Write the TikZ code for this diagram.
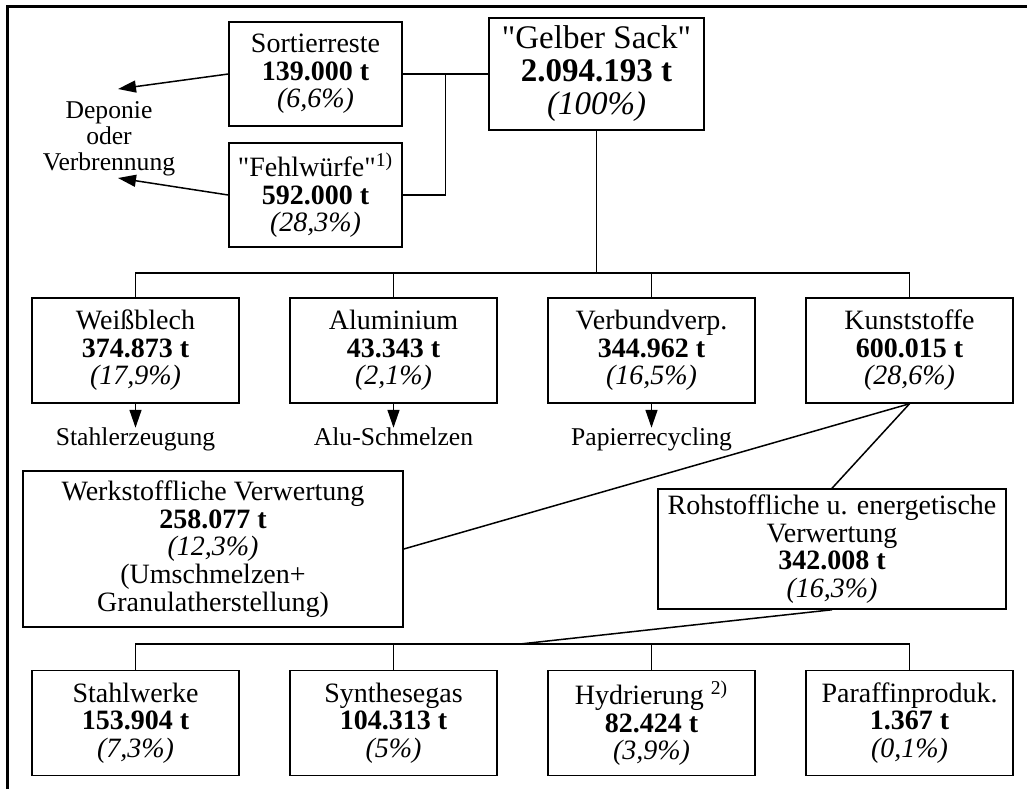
\documentclass[tikz,border=0pt]{standalone}
\usepackage{fontspec}
\setmainfont{Liberation Serif}
\usepackage{tikz}
\usetikzlibrary{calc,positioning,arrows.meta}

\begin{document}
\begin{tikzpicture}[
    x=0.5pt, y=-0.5pt,
    node distance=129pt,
    every node/.style={font=\fontsize{14}{13.8}\selectfont},
    box/.style={rectangle, draw, line width=0.75pt, align=center, minimum width=103.5pt, minimum height=52.5pt, inner sep=2pt},
    side/.style={box, minimum width=86.5pt, minimum height=52pt},
    lbl/.style={align=center, inner sep=0pt, font=\fontsize{12.8}{13}\selectfont},
    link/.style={line width=0.75pt},
    arrow/.style={->, >={Triangle[length=9pt,width=6pt]}, line width=0.75pt},
    frame/.style={line width=1.5pt},
]
\useasboundingbox (0,0) rectangle (1027,789);
\draw[frame] (7.5,789) |- (1027,6.5);

% Sammlung und Sortierung
\node[box, minimum width=107.5pt, minimum height=56pt, font=\fontsize{16.5}{16.5}\selectfont] (gelb) at (596.5,74) {\textquotedbl Gelber Sack\textquotedbl\\\textbf{2.094.193 t}\\\textit{(100\%)}};
\node[side] (sort) at (315.5,74) {Sortierreste\\\textbf{139.000 t}\\\textit{(6,6\%)}};
\node[side, node distance=60.5pt, below of=sort] (fehl) {\textquotedbl Fehlwürfe\textquotedbl\textsuperscript{1)}\\\textbf{592.000 t}\\\textit{(28,3\%)}};
\node[lbl] (dep) at (109,139) {Deponie\\oder\\Verbrennung};
\coordinate (dep1) at (118,89);
\coordinate (dep2) at (118,178);
\coordinate (jn) at ($(sort.east)!.5!(gelb.west)$);
\draw[link] (sort.east) -- (gelb.west);
\draw[link] (fehl.east) -| (jn);
\draw[arrow] (sort.west) -- (dep1);
\draw[arrow] (fehl.west) -- (dep2);

% Fraktionen
\node[box] (weiss) at (135.5,350.5) {Weißblech\\\textbf{374.873 t}\\\textit{(17,9\%)}};
\node[box, right of=weiss] (alu) {Aluminium\\\textbf{43.343 t}\\\textit{(2,1\%)}};
\node[box, right of=alu] (verb) {Verbundverp.\\\textbf{344.962 t}\\\textit{(16,5\%)}};
\node[box, right of=verb] (kunst) {Kunststoffe\\\textbf{600.015 t}\\\textit{(28,6\%)}};
\coordinate (bus1) at ($(gelb.south)+(0,142)$);
\draw[link] (gelb.south) -- (bus1);
\draw[link] (weiss.north) |- (bus1) -| (kunst.north);
\draw[link] (alu.north) -- (alu.north |- bus1);
\draw[link] (verb.north) -- (verb.north |- bus1);

\node[lbl, below=12pt of weiss] (stahlerz) {Stahlerzeugung};
\node[lbl, below=12pt of alu] (alusch) {Alu-Schmelzen};
\node[lbl, below=12pt of verb] (papier) {Papierrecycling};
\draw[arrow] (weiss.south) -- (stahlerz.north);
\draw[arrow] (alu.south) -- (alusch.north);
\draw[arrow] (verb.south) -- (papier.north);

% Kunststoffverwertung
\node[box, minimum width=190pt, minimum height=78pt] (werk) at (213,549) {Werkstoffliche Verwertung\\\textbf{258.077 t}\\\textit{(12,3\%)}\\(Umschmelzen+\\Granulatherstellung)};
\node[box, minimum width=174pt, minimum height=60pt] (roh) at (832,549) {Rohstoffliche u. energetische\\Verwertung\\\textbf{342.008 t}\\\textit{(16,3\%)}};
\draw[link] (kunst.south) -- (werk.east);
\draw[link] (kunst.south) -- (roh.north);

\node[box, node distance=186.25pt, below of=weiss] (stahl) {Stahlwerke\\\textbf{153.904 t}\\\textit{(7,3\%)}};
\node[box, right of=stahl] (synth) {Synthesegas\\\textbf{104.313 t}\\\textit{(5\%)}};
\node[box, right of=synth] (hydr) {Hydrierung \textsuperscript{2)}\\\textbf{82.424 t}\\\textit{(3,9\%)}};
\node[box, right of=hydr] (paraf) {Paraffinproduk.\\\textbf{1.367 t}\\\textit{(0,1\%)}};
\coordinate (bus2) at (520,644);
\draw[link] (roh.south) -- (bus2);
\draw[link] (stahl.north) |- (bus2) -| (paraf.north);
\draw[link] (synth.north) -- (synth.north |- bus2);
\draw[link] (hydr.north) -- (hydr.north |- bus2);
\end{tikzpicture}
\end{document}
